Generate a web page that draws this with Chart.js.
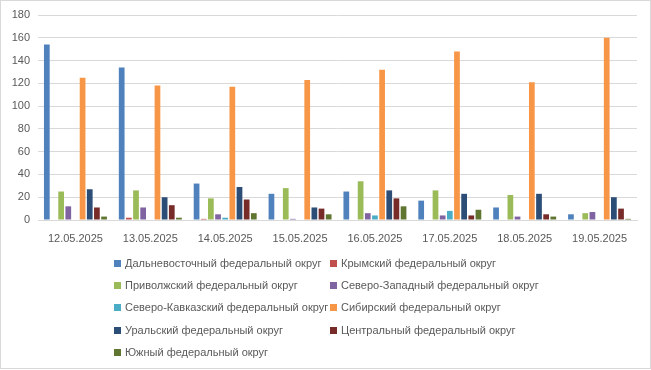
<!DOCTYPE html>
<html>
<head>
<meta charset="utf-8">
<script src="https://cdn.jsdelivr.net/npm/chart.js@4"></script>
<style>
  html,body{margin:0;padding:0;background:#fff;}
  #wrap{position:relative;width:649px;height:367px;border:1px solid #d9d9d9;overflow:hidden;}
  #chart{position:absolute;left:-1px;top:-1px;}
  #legend{position:absolute;left:0;top:0;width:651px;height:370px;pointer-events:none;
    font-family:"Liberation Sans",Arial,sans-serif;font-size:11px;color:#595959;}
  .item{position:absolute;white-space:nowrap;line-height:13px;}
  .item i{display:inline-block;width:7px;height:7px;margin-right:4px;vertical-align:0px;}
</style>
</head>
<body>
<div id="wrap">
  <canvas id="chart" width="651" height="370"></canvas>
  <div id="legend"></div>
</div>
<script>
const categories = ['12.05.2025','13.05.2025','14.05.2025','15.05.2025','16.05.2025','17.05.2025','18.05.2025','19.05.2025'];

const seriesNames = [
  'Дальневосточный федеральный округ',
  'Крымский федеральный округ',
  'Приволжский федеральный округ',
  'Северо-Западный федеральный округ',
  'Северо-Кавказский федеральный округ',
  'Сибирский  федеральный округ',
  'Уральский федеральный округ',
  'Центральный федеральный округ',
  'Южный федеральный округ'
];

const seriesColors = ['#4F81BD','#C0504D','#9BBB59','#8064A2','#4BACC6','#F79646','#2C4D75','#772C2A','#5F7530'];

const farEast      = [154, 134, 32, 23, 25, 17, 11, 5];
const crimea       = [0, 2, 1, 0, 0, 0, 0, 0];
const volga        = [25, 26, 19, 28, 34, 26, 22, 6];
const northWest    = [12, 11, 5, 1, 6, 4, 3, 7];
const northCaucasus= [0, 0, 2, 0, 4, 8, 0, 0];
const siberia      = [125, 118, 117, 123, 132, 148, 121, 160];
const ural         = [27, 20, 29, 11, 26, 23, 23, 20];
const central      = [11, 13, 18, 10, 19, 4, 5, 10];
const south        = [3, 2, 6, 5, 12, 9, 3, 1];

const yTicks = {min:0, max:180, step:20};

const seriesValues = [farEast, crimea, volga, northWest, northCaucasus, siberia, ural, central, south];

const datasets = seriesNames.map((name,i)=>({
  label:name,
  data:seriesValues[i],
  backgroundColor:seriesColors[i],
  borderWidth:0,
  categoryPercentage:0.86,
  barPercentage:0.8
}));

const font = {family:'"Liberation Sans", Arial, sans-serif', size:11};

new Chart(document.getElementById('chart').getContext('2d'),{
  type:'bar',
  data:{labels:categories,datasets},
  options:{
    responsive:false,
    animation:false,
    events:[],
    layout:{padding:{left:0,right:14,top:15,bottom:0}},
    plugins:{legend:{display:false},tooltip:{enabled:false}},
    scales:{
      x:{
        grid:{display:false},
        border:{display:true,color:'#d9d9d9'},
        ticks:{color:'#595959',font,padding:4,maxRotation:0},
        afterFit(scale){ scale.height = 150; }
      },
      y:{
        min:yTicks.min,max:yTicks.max,
        grid:{color:'#d9d9d9',drawTicks:false},
        border:{display:false},
        ticks:{stepSize:yTicks.step,color:'#595959',font,padding:8},
        afterFit(scale){ scale.width = 38; }
      }
    }
  }
});

// legend, two columns like the original
const legend = document.getElementById('legend');
const rowY = [256, 278, 300, 323, 345];
const colX = [113, 329];
seriesNames.forEach((name,i)=>{
  const el = document.createElement('div');
  el.className='item';
  el.style.left = colX[i%2]+'px';
  el.style.top = rowY[Math.floor(i/2)]+'px';
  el.innerHTML = '<i style="background:'+seriesColors[i]+'"></i>'+name;
  legend.appendChild(el);
});
</script>
</body>
</html>
